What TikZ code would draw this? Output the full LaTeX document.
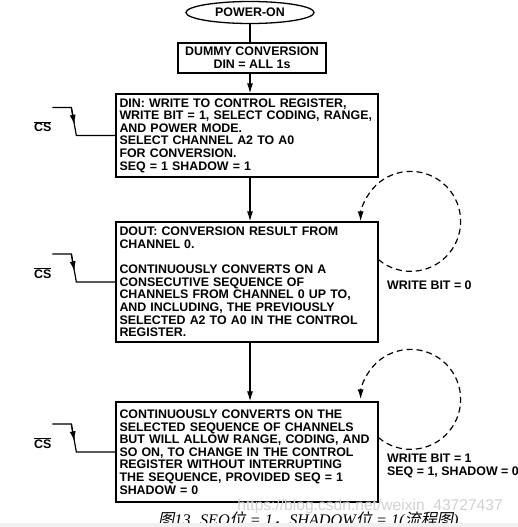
\documentclass[tikz,border=0pt]{standalone}
\usepackage{fontspec}
\setmainfont{Liberation Sans}
\newfontfamily\capfont{Liberation Serif}
\newfontfamily\cjk[FakeSlant=0.2]{Noto Sans CJK SC}
\usetikzlibrary{shapes,arrows.meta,positioning,calc}

\begin{document}
\begin{tikzpicture}[x=1pt, y=1pt,
    every node/.style={font=\fontsize{12.4}{12.6}\selectfont\bfseries},
    stepbox/.style={draw, line width=1.3pt, inner xsep=3.5pt, inner ysep=2pt, text width=255pt, minimum width=262pt, align=left},
    flow/.style={-{Latex[length=10pt,width=6pt]}, line width=1.2pt},
    wave/.style={line width=1.2pt},
    loopline/.style={line width=1.2pt, dash pattern=on 6pt off 4pt, -{Latex[length=10pt,width=6pt]}},
    lbl/.style={anchor=west, align=left, inner sep=0pt}]
    \useasboundingbox (0,0) rectangle (518,-527);
    \clip (0,0) rectangle (518,-527);

    % Start and dummy step
    \node[draw, ellipse, line width=1.3pt, minimum width=128pt, minimum height=22pt, inner sep=0pt] (pwr) at (250,-12.5) {POWER-ON};
    \node[draw, line width=1.3pt, minimum width=148pt, minimum height=30pt, align=center, inner sep=1pt] (dummy) at (252,-58) {DUMMY CONVERSION\\DIN = ALL 1s};

    % Main steps
    \node[stepbox, minimum height=83pt] (din) at (247,-135.5) {DIN: WRITE TO CONTROL REGISTER,\\WRITE BIT = 1, SELECT CODING, RANGE,\\AND POWER MODE.\\SELECT CHANNEL A2 TO A0\\FOR CONVERSION.\\SEQ = 1 SHADOW = 1};
    \node[stepbox, minimum height=120pt] (dout) at (247,-282) {DOUT: CONVERSION RESULT FROM\\CHANNEL 0.\\[12.6pt]CONTINUOUSLY CONVERTS ON A\\CONSECUTIVE SEQUENCE OF\\CHANNELS FROM CHANNEL 0 UP TO,\\AND INCLUDING, THE PREVIOUSLY\\SELECTED A2 TO A0 IN THE CONTROL\\REGISTER.};
    \node[stepbox, minimum height=100pt] (seq) at (247,-452) {CONTINUOUSLY CONVERTS ON THE\\SELECTED SEQUENCE OF CHANNELS\\BUT WILL ALLOW RANGE, CODING, AND\\SO ON, TO CHANGE IN THE CONTROL\\REGISTER WITHOUT INTERRUPTING\\THE SEQUENCE, PROVIDED SEQ = 1\\SHADOW = 0};

    % Arrows
    \draw[line width=1.2pt] (pwr.south) -- (pwr.south |- dummy.north);
    \draw[flow] (pwr.south |- dummy.south) -- (pwr.south |- din.north);
    \draw[flow] (pwr.south |- din.south) -- (pwr.south |- dout.north);
    \draw[flow] (pwr.south |- dout.south) -- (pwr.south |- seq.north);

    % CS falling edges
    \foreach \b in {din,dout,seq}{
        \coordinate (\b-lo) at ($(\b.west)+(-39,0)$);
        \coordinate (\b-hi) at ($(\b-lo)+(-5,28)$);
        \coordinate (\b-st) at ($(\b-hi)+(-19,0)$);
        \draw[wave] (\b-st) -- (\b-hi) -- (\b-lo) -- (\b.west);
        \draw[wave, -{Latex[length=10pt,width=6pt]}] (\b-hi) -- ($(\b-hi)!0.62!(\b-lo)$);
        \node[inner sep=0pt] (\b-cs) at ($(\b-lo)+(-33.5,9)$) {$\overline{\mbox{CS}}$};
    }

    % Loops
    \coordinate (c3) at ($(dout.north east)+(32,0)$);
    \coordinate (c4) at ($(seq.north east)+(32,2)$);
    \draw[loopline] ($(c3)+(-130:50)$) arc[start angle=-130, end angle=180, radius=50];
    \draw[loopline] ($(c4)+(-130:50)$) arc[start angle=-130, end angle=180, radius=50];
    \node[lbl] (wb0) at (387,-285) {WRITE BIT = 0};
    \node[lbl] (wb1) at (387,-466) {WRITE BIT = 1\\SEQ = 1, SHADOW = 0};

    % Caption and watermark
    \node[anchor=east, inner sep=0pt, text=black!18, font=\fontsize{15.6}{15.6}\selectfont] (wm) at (503,-506) {https://blog.csdn.net/weixin\_43727437};
    \node[anchor=base west, inner sep=0pt, font=\fontsize{16.2}{16.2}\selectfont\capfont\itshape] (cap) at (158,-525) {{\cjk 图}13. SEQ{\cjk 位} = 1{\cjk ，}SHADOW{\cjk 位} = 1({\cjk 流程图})};
    \fill[black!6] (0,-523) rectangle (518,-527);
\end{tikzpicture}
\end{document}
